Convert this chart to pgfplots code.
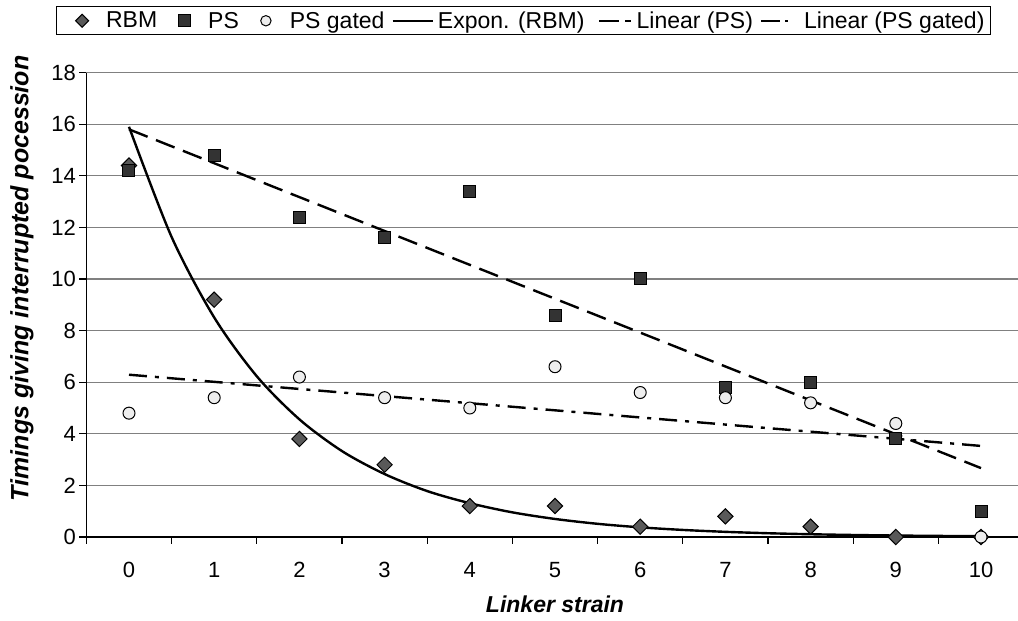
\documentclass[border=0pt]{standalone}
\usepackage{pgfplots}
\pgfplotsset{compat=1.18}
\usepackage{fontspec}
\setmainfont{Liberation Sans}
\definecolor{rbmfill}{HTML}{595959}
\definecolor{psfill}{HTML}{333333}
\definecolor{gatedfill}{HTML}{EEEEEE}
\definecolor{gridgray}{HTML}{808080}
\pgfplotsset{
  expleg/.style={legend image code/.code={\path[draw=none,fill=none] (0pt,-2pt) rectangle (40pt,2pt); \draw[##1, line width=2.4pt] (0pt,0pt) -- (40pt,0pt);}},
  linpsleg/.style={legend image code/.code={\path[draw=none,fill=none] (0pt,-2pt) rectangle (40pt,2pt); \draw[##1, line width=2.4pt] (8pt,0pt) -- (40pt,0pt);}},
  lingatedleg/.style={legend image code/.code={\path[draw=none,fill=none] (0pt,-2pt) rectangle (40pt,2pt); \draw[##1, line width=2.4pt] (1pt,0pt) -- (28pt,0pt);}},
}
\begin{document}
\begin{tikzpicture}
\useasboundingbox (-86.4pt,-84pt) rectangle (931.6pt,537pt);
\begin{axis}[
  scale only axis, width=931.6pt, height=464.4pt,
  xmin=-0.5, xmax=10.434, ymin=0, ymax=18,
  axis x line*=bottom, axis y line*=left,
  axis line style={-, black, line width=1.2pt},
  xtick={0,...,10}, minor xtick={-0.5,0.5,...,9.5},
  ytick={0,2,...,18},
  tick align=outside, major tick length=7pt, minor tick length=7pt,
  tick style={black, line width=1.2pt},
  major x tick style={draw=none},
  ymajorgrids, grid style={gridgray, line width=1.2pt},
  ticklabel style={font=\fontsize{22}{26}\selectfont},
  /pgf/number format/assume math mode=true,
  xticklabel style={yshift=-15pt},
  xlabel={\fontsize{23}{27}\selectfont\bfseries\itshape Linker strain},
  xlabel style={at={(axis description cs:0.503,-0.1443)}, anchor=center},
  ylabel={\fontsize{25}{29}\selectfont\bfseries\itshape Timings giving interrupted pocession},
  ylabel style={at={(axis description cs:-0.0691,0.557)}, anchor=center},
  clip=false,
  legend columns=-1,
  legend style={at={(axis description cs:0.971,1.143)}, anchor=north east,
    draw=black, line width=1pt, font=\fontsize{23}{27}\selectfont,
    inner xsep=6pt, inner ysep=2pt,
    nodes={inner xsep=0pt, inner ysep=3pt},
    /tikz/every even column/.append style={column sep=7pt},
    /tikz/every odd column/.append style={column sep=4pt}},
  legend image code/.code={\path[draw=none,fill=none] (0pt,-2pt) rectangle (40pt,2pt);
    \draw[mark repeat=2,mark phase=2,#1] plot coordinates {(0pt,0pt) (20pt,0pt) (40pt,0pt)};},
]
% RBM
\addplot[forget plot, only marks, mark=square*, mark size=5.4pt,
  mark options={rotate=45, fill=rbmfill, draw=black, line width=1pt}] coordinates {
  (0,14.4) (1,9.2) (2,3.8) (3,2.8) (4,1.2) (5,1.2) (6,0.4) (7,0.8) (8,0.4) (9,0) (10,0)};
% Expon (RBM)
\addplot[forget plot, black, line width=2.4pt, smooth] coordinates {
  (0,15.9) (0.5,11.63) (1,8.51) (1.5,6.23) (2,4.56) (2.5,3.33) (3,2.44) (3.5,1.78)
  (4,1.31) (4.5,0.955) (5,0.699) (5.5,0.511) (6,0.374) (6.5,0.274) (7,0.200)
  (7.5,0.146) (8,0.107) (8.5,0.078) (9,0.057) (9.5,0.042) (10,0.031)};
% PS
\addplot[forget plot, only marks, mark=square*, mark size=6pt,
  mark options={fill=psfill, draw=black, line width=1pt}] coordinates {
  (0,14.2) (1,14.8) (2,12.4) (3,11.6) (4,13.4) (5,8.6) (6,10.0) (7,5.8) (8,6.0) (9,3.8) (10,1.0)};
% Linear (PS)
\addplot[forget plot, black, line width=2.4pt, dash pattern=on 20pt off 9pt] coordinates {
  (0,15.8) (10,2.67)};
% PS gated
\addplot[forget plot, only marks, mark=*, mark size=6pt,
  mark options={fill=gatedfill, draw=black, line width=1pt}] coordinates {
  (0,4.8) (1,5.4) (2,6.2) (3,5.4) (4,5.0) (5,6.6) (6,5.6) (7,5.4) (8,5.2) (9,4.4) (10,0)};
% Linear (PS gated)
\addplot[forget plot, black, line width=2.4pt, dash pattern=on 18pt off 8pt on 4pt off 8pt] coordinates {
  (0,6.29) (10,3.53)};

\addlegendimage{only marks, mark=square*, mark size=4.6pt, mark options={rotate=45, fill=rbmfill, draw=black, line width=1pt}}
\addlegendentry{RBM}
\addlegendimage{only marks, mark=square*, mark size=5.8pt, mark options={fill=psfill, draw=black, line width=1pt}}
\addlegendentry{PS}
\addlegendimage{only marks, mark=*, mark size=5.2pt, mark options={fill=gatedfill, draw=black, line width=1pt}}
\addlegendentry{PS gated}
\addlegendimage{black, expleg}
\addlegendentry{Expon. (RBM)}
\addlegendimage{black, dash pattern=on 20pt off 6pt, linpsleg}
\addlegendentry{Linear (PS)}
\addlegendimage{black, dash pattern=on 19pt off 5pt on 4pt off 8pt, lingatedleg}
\addlegendentry{Linear (PS gated)}
\end{axis}
\end{tikzpicture}
\end{document}
